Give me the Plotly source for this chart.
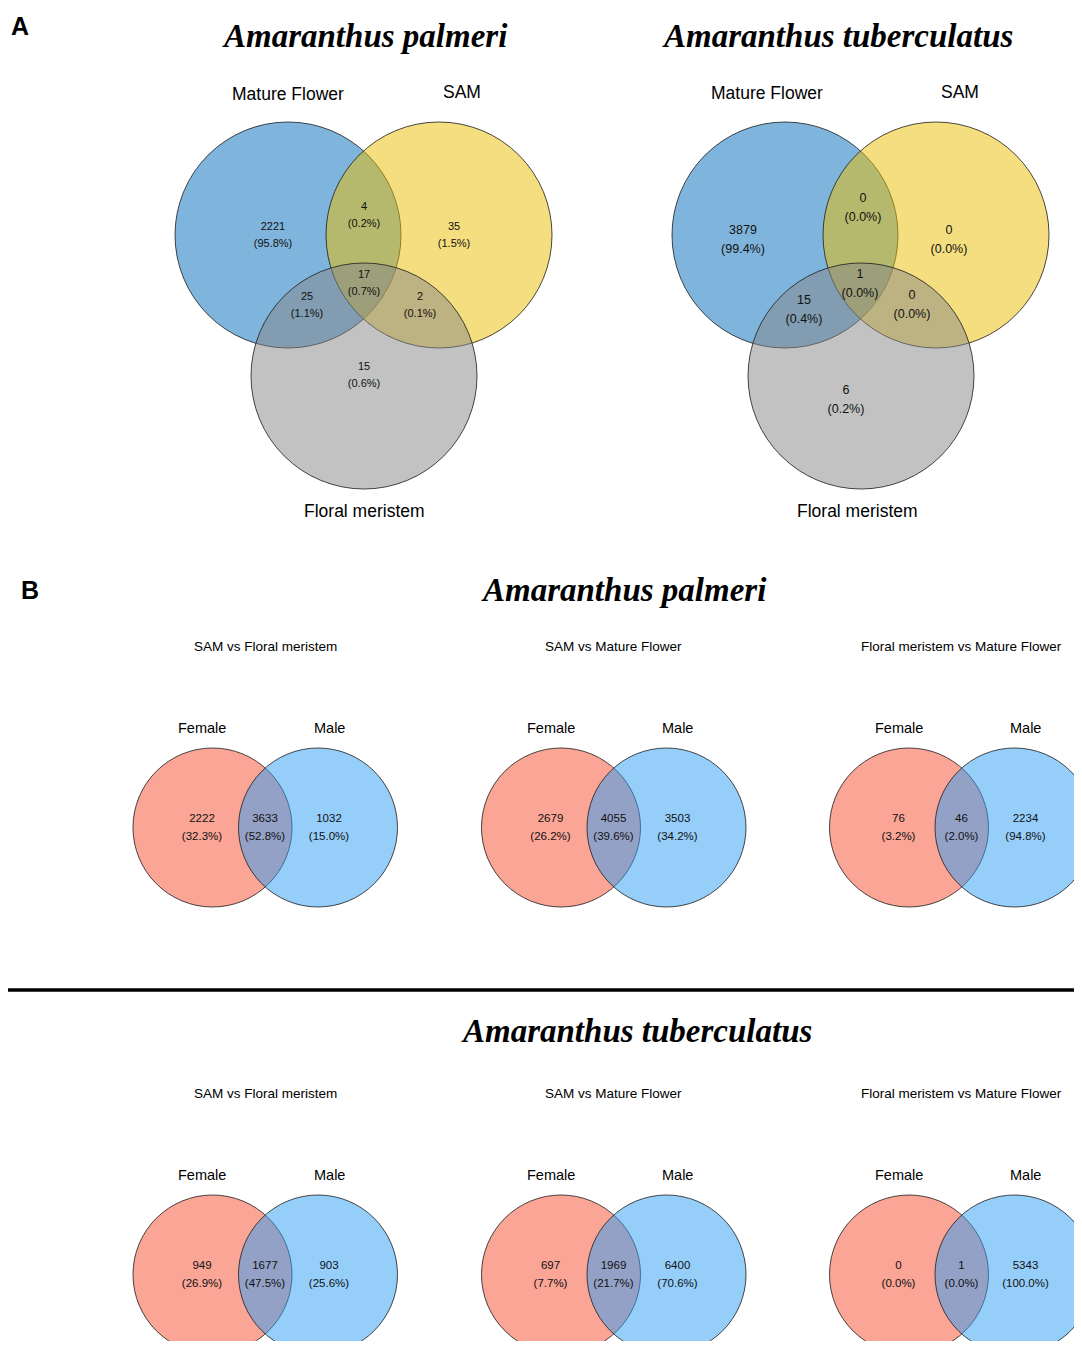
import plotly.graph_objects as go

# ---------------- DATA ----------------
# Panel A: three-set Venn (Mature Flower, SAM, Floral meristem)
venn3_sets = ["Mature Flower", "SAM", "Floral meristem"]
venn3_regions = ["MF only", "MF&SAM", "SAM only", "MF&SAM&FM", "MF&FM", "SAM&FM", "FM only"]
palmeri_A = [2221, 4, 35, 17, 25, 2, 15]
tuberculatus_A = [3879, 0, 0, 1, 15, 0, 6]

# Panel B: two-set Venn (Female, Male) -> [female only, both, male only]
venn2_sets = ["Female", "Male"]
comparisons = ["SAM vs Floral meristem", "SAM vs Mature Flower", "Floral meristem vs Mature Flower"]
palmeri_B = [[2222, 3633, 1032], [2679, 4055, 3503], [76, 46, 2234]]
tuberculatus_B = [[949, 1677, 903], [697, 1969, 6400], [0, 1, 5343]]
species = ["Amaranthus palmeri", "Amaranthus tuberculatus"]

# ---------------- STYLE / LAYOUT ----------------
W, H = 1082, 1349
PAGE_MARGIN = 8  # default body margin of the html page
SANS = "Liberation Sans, Arial, Helvetica, sans-serif"
SERIF = "Liberation Serif, Times New Roman, serif"
LINE = dict(color="rgba(30,30,30,0.9)", width=0.9)
C3 = ["rgba(0,107,185,0.5)", "rgba(235,189,0,0.5)", "rgba(133,133,133,0.5)"]
C2 = ["rgba(245,76,46,0.5)", "rgba(46,157,245,0.5)"]

fig = go.Figure()
shapes, annots = [], []

def pct(v, tot):
    return "(%.1f%%)" % (100.0 * v / tot) if tot else "(0.0%)"

def add_counts(xs, ys, vals, total, size, gap):
    fig.add_trace(go.Scatter(x=xs, y=ys, mode="text", text=[str(v) for v in vals],
                             textfont=dict(family=SANS, size=size, color="#111"),
                             hoverinfo="skip", showlegend=False))
    fig.add_trace(go.Scatter(x=xs, y=[y + gap for y in ys], mode="text",
                             text=[pct(v, total) for v in vals],
                             textfont=dict(family=SANS, size=size, color="#111"),
                             hoverinfo="skip", showlegend=False))

def circle(cx, cy, r, fill):
    shapes.append(dict(type="circle", xref="x", yref="y", x0=cx - r, x1=cx + r,
                       y0=cy - r, y1=cy + r, fillcolor=fill, line=LINE, layer="below"))

def text(x, y, s, size, family=SANS, **kw):
    annots.append(dict(x=x, y=y, xref="x", yref="y", text=s, showarrow=False,
                       font=dict(family=family, size=size, color="black"),
                       xanchor="center", yanchor="middle", **kw))

# ---- Panel A ----
R3 = 113
a_panels = [
    dict(data=palmeri_A, cx=[288, 439, 364], cy=[235, 235, 376], title_x=365,
         set_lbl=[(288, 94), (462, 92), (364, 511)],
         lbl=[(273, 227), (364, 207), (454, 227), (364, 275), (307, 297), (420, 297), (364, 367)],
         size=11, gap=17),
    dict(data=tuberculatus_A, cx=[785, 936, 861], cy=[235, 235, 376], title_x=837,
         set_lbl=[(767, 93), (960, 92), (857, 511)],
         lbl=[(743, 231), (863, 199), (949, 231), (860, 275), (804, 301), (912, 296), (846, 391)],
         size=12.5, gap=19),
]
for k, p in enumerate(a_panels):
    for i in range(3):
        circle(p["cx"][i], p["cy"][i], R3, C3[i])
    for i, s in enumerate(venn3_sets):
        text(p["set_lbl"][i][0], p["set_lbl"][i][1], s, 17.5)
    text(p["title_x"], 36, "<b><i>%s</i></b>" % species[k], 33, SERIF)
    total = sum(p["data"])
    add_counts([q[0] for q in p["lbl"]], [q[1] for q in p["lbl"]], p["data"], total, p["size"], p["gap"])

text(20, 26, "<b>A</b>", 25)
text(30, 590, "<b>B</b>", 25)

# ---- Panel B ----
R2 = 79.5
col_fx = [212.5, 561, 909]   # female circle centre x
sep = 105.5
rows = [dict(data=palmeri_B, y0=0, title=(624, 590)),
        dict(data=tuberculatus_B, y0=447, title=(636, 1031))]
for ri, row in enumerate(rows):
    dy = row["y0"]
    text(row["title"][0], row["title"][1], "<b><i>%s</i></b>" % species[ri], 33, SERIF)
    for ci in range(3):
        fx = col_fx[ci]
        cy = 827.5 + dy
        circle(fx, cy, R2, C2[0])
        circle(fx + sep, cy, R2, C2[1])
        text(fx + 52.5, 646 + dy, comparisons[ci], 13.5)
        text(fx - 10.5, 728 + dy, venn2_sets[0], 14.5)
        text(fx + 116.5, 728 + dy, venn2_sets[1], 14.5)
        vals = row["data"][ci]
        xs = [fx - 10.5, fx + 52.5, fx + 116.5]
        add_counts(xs, [819 + dy] * 3, vals, sum(vals), 11.5, 18)

# separator line
shapes.append(dict(type="line", xref="x", yref="y", x0=8, x1=W + 20, y0=990, y1=990,
                   line=dict(color="black", width=3.5)))

# figure sized so the page (with its default 8px body margin) does not overflow;
# axis ranges chosen so data coordinates equal page pixel coordinates
FW, FH = W - PAGE_MARGIN, H - 2 * PAGE_MARGIN
fig.update_layout(
    width=FW, height=FH, margin=dict(l=0, r=0, t=0, b=0),
    paper_bgcolor="white", plot_bgcolor="white",
    xaxis=dict(range=[PAGE_MARGIN, PAGE_MARGIN + FW], visible=False, fixedrange=True),
    yaxis=dict(range=[PAGE_MARGIN + FH, PAGE_MARGIN], visible=False, fixedrange=True),
    shapes=shapes, annotations=annots, showlegend=False,
)
fig.write_html("out.html")
